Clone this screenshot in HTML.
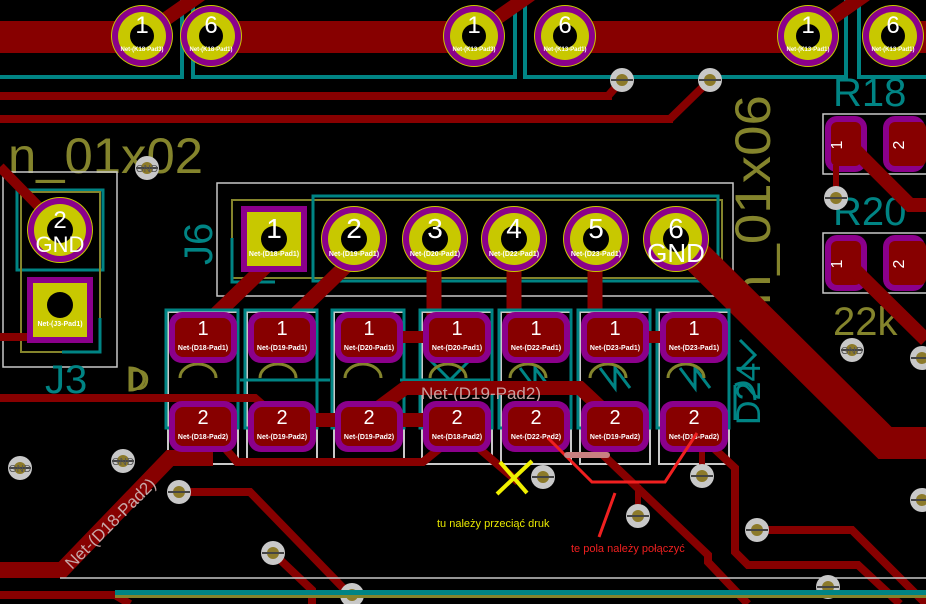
<!DOCTYPE html>
<html><head><meta charset="utf-8"><style>
html,body{margin:0;padding:0;background:#000;}
svg{display:block;}
text{font-family:"Liberation Sans",sans-serif;}
.pn{fill:#fff;font-size:20px;text-anchor:middle;}
.nt{fill:#fff;font-size:7px;font-weight:bold;text-anchor:middle;}
</style></head><body>
<svg width="926" height="604" viewBox="0 0 926 604" xmlns="http://www.w3.org/2000/svg">
<rect width="926" height="604" fill="#000"/>
<defs>
<g id="tht"><circle r="31" fill="#c8c800"/><circle r="30" fill="#8b008b"/><circle r="24" fill="#c8c800"/><circle r="12" fill="#000"/></g>
<g id="smd"><rect x="-34" y="-25" width="68" height="51" rx="13" fill="#8b008b"/><rect x="-28" y="-19" width="56" height="39" rx="8" fill="#870000"/></g>
<g id="via"><circle r="12" fill="#c8c8c8"/><circle r="6" fill="#8c7a2a"/><rect x="-11" y="-1" width="22" height="2" fill="#444"/></g>
</defs>

<!-- teal outlines top -->
<g stroke="#008484" stroke-width="4" fill="none">
<polyline points="0,77 182,77 182,0"/>
<polyline points="193,0 193,77 515,77 515,0"/>
<polyline points="525,0 525,77 846,77 846,0"/>
<polyline points="859,0 859,77 926,77"/>
</g>
<!-- top traces -->
<g fill="#870000">
<rect x="0" y="21" width="142" height="32"/>
<rect x="211" y="21" width="263" height="32"/>
<rect x="565" y="21" width="243" height="32"/>
<rect x="893" y="21" width="33" height="32"/>
<rect x="0" y="92" width="612" height="8"/>
<rect x="0" y="115" width="673" height="8"/>
</g>
<g stroke="#870000" fill="none" stroke-linecap="round">
<line x1="150" y1="30" x2="200" y2="-5" stroke-width="14"/>
<line x1="480" y1="30" x2="530" y2="-5" stroke-width="14"/>
<line x1="815" y1="30" x2="865" y2="-5" stroke-width="14"/>
<line x1="608" y1="96" x2="622" y2="80" stroke-width="8"/>
<line x1="670" y1="119" x2="710" y2="80" stroke-width="8"/>
</g>
<use href="#tht" x="142" y="36"/><use href="#tht" x="211" y="36"/>
<use href="#tht" x="474" y="36"/><use href="#tht" x="565" y="36"/>
<use href="#tht" x="808" y="36"/><use href="#tht" x="893" y="36"/>
<g class="pn" style="font-size:24px"><text x="142" y="33">1</text><text x="211" y="33">6</text><text x="474" y="33">1</text><text x="565" y="33">6</text><text x="808" y="33">1</text><text x="893" y="33">6</text></g>
<g class="nt" style="font-size:6px"><text x="142" y="51">Net-(K18-Pad3)</text><text x="211" y="51">Net-(K18-Pad1)</text><text x="474" y="51">Net-(K13-Pad3)</text><text x="565" y="51">Net-(K13-Pad1)</text><text x="808" y="51">Net-(K13-Pad1)</text><text x="893" y="51">Net-(K13-Pad1)</text></g>
<use href="#via" x="622" y="80"/><use href="#via" x="710" y="80"/>

<!-- J3 -->
<text x="8" y="173" fill="#84842c" font-size="50" textLength="195" lengthAdjust="spacingAndGlyphs">n_01x02</text>
<rect x="3" y="172" width="114" height="195" fill="none" stroke="#c8c8c8" stroke-width="1.5"/>
<rect x="17" y="190" width="86" height="80" fill="none" stroke="#008484" stroke-width="3"/>
<rect x="21" y="192" width="79" height="160" fill="none" stroke="#84842c" stroke-width="2"/>
<polyline points="62,352 100,352 100,318" fill="none" stroke="#008484" stroke-width="3"/>
<line x1="0" y1="167" x2="42" y2="210" stroke="#870000" stroke-width="10"/>
<rect x="0" y="333" width="32" height="8" fill="#870000"/>
<g transform="translate(60,230)"><circle r="33" fill="#c8c800"/><circle r="32" fill="#8b008b"/><circle r="26" fill="#c8c800"/><circle r="13" fill="#000"/></g>
<text x="60" y="228" class="pn" style="font-size:24px">2</text>
<text x="60" y="252" class="pn" style="font-size:22px">GND</text>
<rect x="27" y="277" width="66" height="66" fill="#8b008b"/><rect x="33" y="283" width="54" height="54" fill="#c8c800"/><circle cx="60" cy="305" r="13" fill="#000"/>
<text x="60" y="326" class="nt">Net-(J3-Pad1)</text>
<text x="45" y="393" fill="#008484" font-size="40">J3</text>
<use href="#via" x="147" y="168"/><text x="147" y="172" fill="#555" font-size="10" text-anchor="middle">GND</text>

<!-- J6 -->
<text transform="translate(212,265) rotate(-90)" fill="#008484" font-size="40">J6</text>
<rect x="217" y="183" width="516" height="113" fill="none" stroke="#c8c8c8" stroke-width="1.5"/>
<rect x="232" y="200" width="490" height="78" fill="none" stroke="#84842c" stroke-width="2"/>
<rect x="313" y="196" width="405" height="85" fill="none" stroke="#008484" stroke-width="3"/>
<polyline points="232,238 232,282 275,282" fill="none" stroke="#008484" stroke-width="3"/>
<text transform="translate(770,305) rotate(-90)" fill="#84842c" font-size="50" textLength="210" lengthAdjust="spacingAndGlyphs">n_01x06</text>
<!-- traces J6 to D -->
<g stroke="#870000" fill="none">
<line x1="270" y1="262" x2="205" y2="325" stroke-width="15"/>
<line x1="350" y1="262" x2="285" y2="325" stroke-width="15"/>
<line x1="434" y1="260" x2="434" y2="330" stroke-width="15"/>
<line x1="514" y1="260" x2="514" y2="330" stroke-width="15"/>
<line x1="595" y1="260" x2="595" y2="330" stroke-width="15"/>
<polyline points="680,240 885,443 926,443" stroke-width="32"/>
</g>
<rect x="241" y="206" width="66" height="66" fill="#8b008b"/><rect x="247" y="212" width="54" height="54" fill="#c8c800"/><circle cx="274" cy="239" r="13" fill="#000"/>
<g transform="translate(354,239)"><circle r="33" fill="#c8c800"/><circle r="32" fill="#8b008b"/><circle r="26" fill="#c8c800"/><circle r="13" fill="#000"/></g>
<g transform="translate(435,239)"><circle r="33" fill="#c8c800"/><circle r="32" fill="#8b008b"/><circle r="26" fill="#c8c800"/><circle r="13" fill="#000"/></g>
<g transform="translate(514,239)"><circle r="33" fill="#c8c800"/><circle r="32" fill="#8b008b"/><circle r="26" fill="#c8c800"/><circle r="13" fill="#000"/></g>
<g transform="translate(596,239)"><circle r="33" fill="#c8c800"/><circle r="32" fill="#8b008b"/><circle r="26" fill="#c8c800"/><circle r="13" fill="#000"/></g>
<g transform="translate(676,239)"><circle r="33" fill="#c8c800"/><circle r="32" fill="#8b008b"/><circle r="26" fill="#c8c800"/><circle r="13" fill="#000"/></g>
<g class="pn" style="font-size:28px"><text x="274" y="238">1</text><text x="354" y="238">2</text><text x="435" y="238">3</text><text x="514" y="238">4</text><text x="596" y="238">5</text><text x="676" y="238">6</text></g>
<text x="676" y="262" class="pn" style="font-size:26px">GND</text>
<g class="nt"><text x="274" y="256">Net-(D18-Pad1)</text><text x="354" y="256">Net-(D19-Pad1)</text><text x="435" y="256">Net-(D20-Pad1)</text><text x="514" y="256">Net-(D22-Pad1)</text><text x="596" y="256">Net-(D23-Pad1)</text></g>

<!-- diode outlines -->
<g fill="none" stroke-width="2">
<g stroke="#c8c8c8"><rect x="168" y="312" width="70" height="152"/><rect x="247" y="312" width="70" height="152"/><rect x="334" y="312" width="70" height="152"/><rect x="422" y="312" width="70" height="152"/><rect x="501" y="312" width="70" height="152"/><rect x="580" y="312" width="70" height="152"/><rect x="659" y="312" width="70" height="152"/></g>
<g stroke="#008484" stroke-width="3"><rect x="166" y="310" width="72" height="118"/><rect x="245" y="310" width="72" height="118"/><rect x="332" y="310" width="72" height="118"/><rect x="420" y="310" width="72" height="118"/><rect x="499" y="310" width="72" height="118"/><rect x="578" y="310" width="72" height="118"/><rect x="657" y="310" width="72" height="118"/>
<line x1="240" y1="380" x2="330" y2="380"/><line x1="400" y1="380" x2="490" y2="380"/>
<path d="M520 368 l15 20 l0 -20 l15 20 M600 368 l15 20 l0 -20 l15 20 M680 368 l15 20 l0 -20 l15 20 M430 360 l20 20 l20 -20"/>
<path d="M735 385 l0 35 M735 385 q18 -8 20 15 M740 340 l15 15 l-15 15"/></g>
<g stroke="#84842c" stroke-width="3"><path d="M180 378 a18 14 0 0 1 36 0 M260 378 a18 14 0 0 1 36 0 M345 378 a18 14 0 0 1 36 0 M430 378 a18 14 0 0 1 36 0 M510 378 a18 14 0 0 1 36 0 M590 378 a18 14 0 0 1 36 0 M668 378 a18 14 0 0 1 36 0"/>
<path d="M130 390 l0 -22 a14 11 0 0 1 0 22 z"/></g>
</g>
<text x="128" y="390" fill="#84842c" font-size="30">D</text>
<text transform="translate(760,425) rotate(-90)" fill="#008484" font-size="34">D24</text>

<!-- D traces -->
<g stroke="#870000" fill="none">
<polyline points="0,398 255,398 278,418" stroke-width="8"/>
<line x1="282" y1="420" x2="455" y2="420" stroke-width="14"/>
<polyline points="362,420 405,388 580,388 614,420" stroke-width="14"/>
<line x1="369" y1="337" x2="457" y2="337" stroke-width="12"/>
<line x1="615" y1="337" x2="694" y2="337" stroke-width="12"/>
<polyline points="218,440 237,462 423,462 450,440" stroke-width="8"/>
<polyline points="460,432 518,482" stroke-width="8"/>
<polyline points="600,452 708,555 708,562 748,604" stroke-width="8"/>
<polyline points="705,440 735,468 735,552 748,565 858,565 900,604" stroke-width="8"/>
<polyline points="757,530 852,530 926,604" stroke-width="8"/>
<polyline points="638,516 638,485" stroke-width="6"/>
<polyline points="702,476 702,445" stroke-width="6"/>
<polyline points="179,492 250,492 350,595" stroke-width="8"/>
<polyline points="273,553 312,590 312,604" stroke-width="8"/>
<polyline points="0,595 115,595 130,604" stroke-width="8"/>
<polyline points="205,445 205,458 170,458 62,570 0,570" stroke-width="16"/>
</g>
<text transform="translate(72,570) rotate(-45)" fill="#c8a8a8" font-size="17">Net-(D18-Pad2)</text>
<text x="421" y="399" fill="#c8a0a0" font-size="17">Net-(D19-Pad2)</text>
<!-- SMD pads -->
<g>
<use href="#smd" x="203" y="337"/><use href="#smd" x="282" y="337"/><use href="#smd" x="369" y="337"/><use href="#smd" x="457" y="337"/><use href="#smd" x="536" y="337"/><use href="#smd" x="615" y="337"/><use href="#smd" x="694" y="337"/>
<use href="#smd" x="203" y="426"/><use href="#smd" x="282" y="426"/><use href="#smd" x="369" y="426"/><use href="#smd" x="457" y="426"/><use href="#smd" x="536" y="426"/><use href="#smd" x="615" y="426"/><use href="#smd" x="694" y="426"/>
</g>
<g class="pn"><text x="203" y="335">1</text><text x="282" y="335">1</text><text x="369" y="335">1</text><text x="457" y="335">1</text><text x="536" y="335">1</text><text x="615" y="335">1</text><text x="694" y="335">1</text>
<text x="203" y="424">2</text><text x="282" y="424">2</text><text x="369" y="424">2</text><text x="457" y="424">2</text><text x="536" y="424">2</text><text x="615" y="424">2</text><text x="694" y="424">2</text></g>
<g class="nt"><text x="203" y="350">Net-(D18-Pad1)</text><text x="282" y="350">Net-(D19-Pad1)</text><text x="369" y="350">Net-(D20-Pad1)</text><text x="457" y="350">Net-(D20-Pad1)</text><text x="536" y="350">Net-(D22-Pad1)</text><text x="615" y="350">Net-(D23-Pad1)</text><text x="694" y="350">Net-(D23-Pad1)</text>
<text x="203" y="439">Net-(D18-Pad2)</text><text x="282" y="439">Net-(D19-Pad2)</text><text x="369" y="439">Net-(D19-Pad2)</text><text x="457" y="439">Net-(D18-Pad2)</text><text x="536" y="439">Net-(D22-Pad2)</text><text x="615" y="439">Net-(D19-Pad2)</text><text x="694" y="439">Net-(D18-Pad2)</text></g>

<!-- right resistors -->
<text x="833" y="106" fill="#008484" font-size="40">R18</text>
<text x="833" y="225" fill="#008484" font-size="40">R20</text>
<text x="833" y="335" fill="#84842c" font-size="40">22k</text>
<rect x="823" y="114" width="110" height="60" fill="none" stroke="#c8c8c8" stroke-width="1.5"/>
<rect x="823" y="233" width="110" height="60" fill="none" stroke="#c8c8c8" stroke-width="1.5"/>
<g fill="#8b008b"><rect x="825" y="116" width="42" height="56" rx="12"/><rect x="883" y="116" width="42" height="56" rx="12"/><rect x="825" y="235" width="42" height="56" rx="12"/><rect x="883" y="235" width="42" height="56" rx="12"/></g>
<g fill="#870000"><rect x="831" y="122" width="30" height="44" rx="6"/><rect x="889" y="122" width="37" height="44" rx="6"/><rect x="831" y="241" width="30" height="44" rx="6"/><rect x="889" y="241" width="37" height="44" rx="6"/></g>
<g stroke="#870000" fill="none"><polyline points="855,150 910,205 926,205" stroke-width="14"/><line x1="855" y1="270" x2="926" y2="340" stroke-width="14"/><line x1="836" y1="165" x2="836" y2="198" stroke-width="6"/></g>
<use href="#via" x="836" y="198"/>
<g class="pn" style="font-size:16px"><text transform="translate(842,145) rotate(-90)">1</text><text transform="translate(904,145) rotate(-90)">2</text><text transform="translate(842,264) rotate(-90)">1</text><text transform="translate(904,264) rotate(-90)">2</text></g>
<use href="#via" x="852" y="350"/><text x="852" y="354" fill="#555" font-size="10" text-anchor="middle">GND</text>

<!-- vias -->
<use href="#via" x="20" y="468"/><text x="20" y="472" fill="#555" font-size="10" text-anchor="middle">GND</text>
<use href="#via" x="123" y="461"/><text x="123" y="465" fill="#555" font-size="10" text-anchor="middle">GND</text>
<use href="#via" x="179" y="492"/><use href="#via" x="273" y="553"/><use href="#via" x="352" y="595"/>
<use href="#via" x="543" y="477"/><use href="#via" x="638" y="516"/><use href="#via" x="702" y="476"/>
<use href="#via" x="757" y="530"/><use href="#via" x="828" y="587"/>
<use href="#via" x="922" y="358"/><use href="#via" x="922" y="500"/>

<!-- bottom lines -->
<line x1="60" y1="578" x2="926" y2="578" stroke="#c8c8c8" stroke-width="1.5"/>
<rect x="115" y="590" width="811" height="5" fill="#008484"/>
<rect x="115" y="595" width="811" height="3" fill="#84842c"/>

<!-- annotations -->
<path d="M548 438 L592 482 L665 482 L697 433" fill="none" stroke="#f02020" stroke-width="3"/>
<line x1="615" y1="493" x2="599" y2="537" stroke="#f02020" stroke-width="3"/>
<line x1="567" y1="455" x2="607" y2="455" stroke="#c88080" stroke-width="6" stroke-linecap="round"/>
<g stroke="#f0f000" stroke-width="4"><line x1="500" y1="462" x2="527" y2="493"/><line x1="532" y1="461" x2="497" y2="494"/></g>
<text x="437" y="527" fill="#e8e800" font-size="11">tu należy przeciąć druk</text>
<text x="571" y="552" fill="#f02020" font-size="11">te pola należy połączyć</text>
</svg>
</body></html>
